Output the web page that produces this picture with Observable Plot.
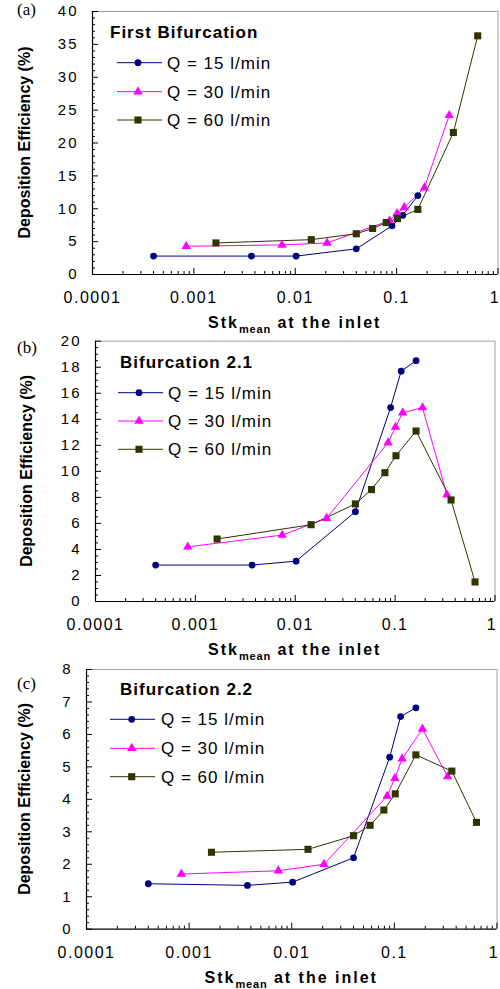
<!DOCTYPE html>
<html><head><meta charset="utf-8">
<script src="https://cdn.jsdelivr.net/npm/d3@7"></script>
<script src="https://cdn.jsdelivr.net/npm/@observablehq/plot@0.6"></script>
<style>
body{margin:0;background:#fff;width:500px;height:989px;overflow:hidden}
#chart svg{display:block;overflow:visible}
</style></head><body><div id="chart"></div>
<script>
// ---- data ----
const seriesNames = ["Q = 15 l/min", "Q = 30 l/min", "Q = 60 l/min"];
const stk15 = [0.0004, 0.0037, 0.0102, 0.040, 0.090, 0.115, 0.162];
const stk30 = [0.00084, 0.0074, 0.0206, 0.085, 0.101, 0.119, 0.188, 0.33];
const stk60 = [0.00165, 0.0144, 0.040, 0.058, 0.079, 0.102, 0.162, 0.363, 0.631];
const effA15 = [2.8, 2.8, 2.8, 3.9, 7.4, 9.0, 12.0];
const effA30 = [4.3, 4.5, 4.8, 8.2, 9.3, 10.2, 13.2, 24.2];
const effA60 = [4.8, 5.3, 6.2, 7.0, 7.9, 8.5, 9.9, 21.6, 36.3];
const effB15 = [2.8, 2.8, 3.1, 6.9, 14.9, 17.7, 18.5];
const effB30 = [4.2, 5.1, 6.4, 12.2, 13.4, 14.5, 14.9, 8.2];
const effB60 = [4.8, 5.9, 7.5, 8.6, 9.9, 11.2, 13.1, 7.8, 1.5];
const effC15 = [1.4, 1.35, 1.45, 2.2, 5.3, 6.55, 6.82];
const effC30 = [1.7, 1.8, 2.0, 4.1, 4.65, 5.25, 6.17, 4.7];
const effC60 = [2.37, 2.46, 2.88, 3.2, 3.67, 4.17, 5.37, 4.87, 3.29];
const xTickValues = [0.0001, 0.001, 0.01, 0.1, 1];
const xTickLabels = ["0.0001", "0.001", "0.01", "0.1", "1"];
const yTicksA = [0, 5, 10, 15, 20, 25, 30, 35, 40];
const yTicksB = [0, 2, 4, 6, 8, 10, 12, 14, 16, 18, 20];
const yTicksC = [0, 1, 2, 3, 4, 5, 6, 7, 8];
const panelLetters = ["(a)", "(b)", "(c)"];
const panelTitles = ["First Bifurcation", "Bifurcation 2.1", "Bifurcation 2.2"];
const yTitle = "Deposition Efficiency (%)";
const xTitleMain = "Stk", xTitleSub = "mean", xTitleRest = " at the inlet";

// ---- styles / layout ----
const stks = [stk15, stk30, stk60];
const colors = ["#000080", "#ff00ff", "#333300"];
const symbols = ["circle", "triangle", "square"];
const radii = [3.4, 3.5, 4];
const FONT = "'Liberation Sans', Arial, Helvetica, sans-serif";

const panels = [
  {eff: [effA15, effA30, effA60], yTicks: yTicksA, yMax: 40, minorStep: 1,
   height: 332, mt: 11, mb: 58, ml: 92, mr: 2.5, letterBase: 14.5, yTitleX: 24,
   lg: {tx: 110, ty: 31.7, x0: 117, x1: 162, mx: 138, textX: 167, rows: [62.7, 91.7, 120]}},
  {eff: [effB15, effB30, effB60], yTicks: yTicksB, yMax: 20, minorStep: 0.5,
   height: 330, mt: 8.7, mb: 61, ml: 95, mr: 5.5, letterBase: 21, yTitleX: 26,
   lg: {tx: 120, ty: 29.7, x0: 118, x1: 163, mx: 139, textX: 168, rows: [60.7, 89, 117.3]}},
  {eff: [effC15, effC30, effC60], yTicks: yTicksC, yMax: 8, minorStep: 0.2,
   height: 327, mt: 7, mb: 60.3, ml: 86, mr: 3.5, letterBase: 27, yTitleX: 24.3,
   lg: {tx: 120, ty: 27.3, x0: 110, x1: 155, mx: 131.7, textX: 161, rows: [57.3, 86.3, 114.7]}}
];

const logTicks = d3.scaleLog().domain([1e-4, 1]).ticks();
const minorX = logTicks.filter(v => !xTickValues.some(m => Math.abs(m / v - 1) < 1e-9));

panels.forEach((p, pi) => {
  const data = [];
  seriesNames.forEach((s, k) => stks[k].forEach((x, i) => data.push({series: s, stk: x, eff: p.eff[k][i]})));
  const frameW = 500 - p.ml - p.mr, frameH = p.height - p.mt - p.mb;
  const minorY = d3.range(0, p.yMax + 1e-9, p.minorStep)
    .filter(v => !p.yTicks.some(m => Math.abs(m - v) < 1e-6));
  const marks = [
    Plot.ruleY([p.yMax], {stroke: "#a0a0a0", strokeWidth: 1}),
    Plot.ruleX([1], {stroke: "#a0a0a0", strokeWidth: 1}),
    Plot.tickY(minorY, {y: d => d, insetRight: frameW - 3, stroke: "#000"}),
    Plot.tickY(p.yTicks, {y: d => d, insetRight: frameW - 6, stroke: "#000"}),
    Plot.tickX(minorX, {x: d => d, insetTop: frameH - 3, stroke: "#000"}),
    Plot.tickX(xTickValues, {x: d => d, insetTop: frameH - 6, stroke: "#000"}),
    Plot.axisX(xTickValues.slice(0, -1), {tickSize: 0, tickPadding: 17, fontSize: 16, label: null,
      tickFormat: d => xTickLabels[xTickValues.findIndex(m => Math.abs(m / d - 1) < 1e-9)]}),
    Plot.axisX(xTickValues.slice(-1), {tickSize: 0, tickPadding: 17, fontSize: 16, label: null, dx: -3,
      tickFormat: d => xTickLabels[xTickValues.length - 1]}),
    Plot.axisY(p.yTicks, {tickSize: 0, tickPadding: 14, fontSize: 15, label: null, tickFormat: d => String(d)}),
    Plot.ruleX([1e-4], {stroke: "#000", strokeWidth: 1.2}),
    Plot.ruleY([0], {stroke: "#000", strokeWidth: 1.2})
  ];
  seriesNames.forEach((s, k) => {
    const rows = data.filter(d => d.series === s);
    marks.push(Plot.line(rows, {x: "stk", y: "eff", stroke: colors[k], strokeWidth: 1}));
  });
  seriesNames.forEach((s, k) => {
    const rows = data.filter(d => d.series === s);
    marks.push(Plot.dot(rows, {x: "stk", y: "eff", symbol: symbols[k], fill: colors[k], stroke: "none", r: radii[k]}));
  });
  const svg = Plot.plot({
    width: 500, height: p.height,
    marginTop: p.mt, marginBottom: p.mb, marginLeft: p.ml, marginRight: p.mr,
    style: {fontFamily: FONT, background: "white", overflow: "visible", color: "#000"},
    x: {type: "log", domain: [1e-4, 1], label: null},
    y: {domain: [0, p.yMax], label: null},
    marks
  });
  const s = d3.select(svg);
  s.selectAll("g[aria-label='y-axis tick label'] text").style("letter-spacing", "2px");
  s.selectAll("g[aria-label='x-axis tick label'] text").style("letter-spacing", "1.5px");
  const g = s.append("g").attr("text-anchor", "start");
  // panel letter
  g.append("text").attr("x", 17).attr("y", p.letterBase).attr("text-anchor", "start")
    .attr("font-family", "'Liberation Serif', 'Times New Roman', serif").attr("font-size", 17)
    .text(panelLetters[pi]);
  // y title
  const yMid = p.mt + frameH / 2;
  g.append("text").attr("transform", `translate(${p.yTitleX},${yMid}) rotate(-90)`)
    .attr("text-anchor", "middle").attr("dy", "0.35em")
    .attr("font-family", FONT).attr("font-weight", "bold").attr("font-size", 16)
    .text(yTitle);
  // x title
  const xMid = p.ml + frameW / 2;
  const xt = g.append("text").attr("x", xMid).attr("y", p.height - p.mb + 54)
    .attr("text-anchor", "middle").attr("font-family", FONT).attr("font-weight", "bold")
    .attr("font-size", 16).style("letter-spacing", "2px");
  xt.append("tspan").text(xTitleMain);
  xt.append("tspan").attr("font-size", 11).attr("dy", 5).style("letter-spacing", "0.8px").text(xTitleSub);
  xt.append("tspan").attr("dy", -5).text(xTitleRest);
  // legend
  const lg = p.lg;
  g.append("text").attr("x", lg.tx).attr("y", lg.ty + 6).attr("text-anchor", "start")
    .attr("font-family", FONT).attr("font-weight", "bold").attr("font-size", 17)
    .style("letter-spacing", "1px").text(panelTitles[pi]);
  const symMap = {circle: d3.symbolCircle, triangle: d3.symbolTriangle, square: d3.symbolSquare};
  seriesNames.forEach((name, k) => {
    const yy = lg.rows[k];
    g.append("line").attr("x1", lg.x0).attr("x2", lg.x1).attr("y1", yy).attr("y2", yy)
      .attr("stroke", colors[k]).attr("stroke-width", 1);
    g.append("path").attr("transform", `translate(${lg.mx},${yy})`)
      .attr("d", d3.symbol(symMap[symbols[k]], Math.PI * radii[k] * radii[k])())
      .attr("fill", colors[k]);
    g.append("text").attr("x", lg.textX).attr("y", yy + 6).attr("text-anchor", "start")
      .attr("font-family", FONT).attr("font-size", 17).style("letter-spacing", "1px")
      .text(name);
  });
  document.getElementById("chart").appendChild(svg);
});
</script></body></html>
